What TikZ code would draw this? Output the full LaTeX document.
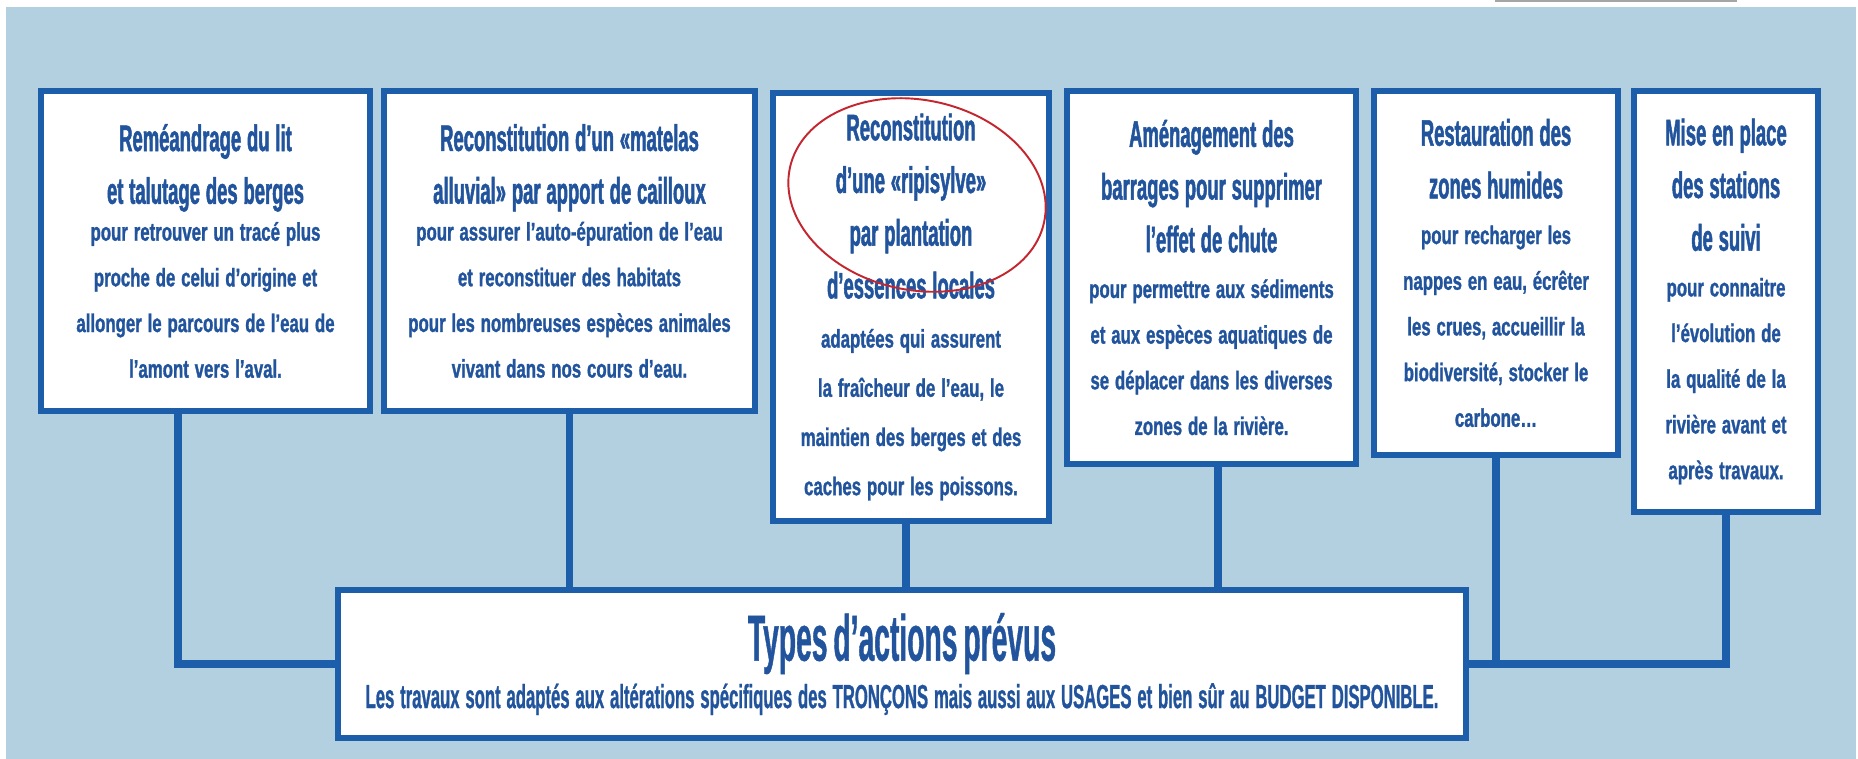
\documentclass[tikz,border=0pt]{standalone}
\usepackage{fontspec}
\setmainfont{Liberation Sans}
\newfontfamily\headfont{Liberation Sans}[FakeStretch=0.50, FakeBold=1.3]
\newfontfamily\copyfont{Liberation Sans}[FakeStretch=0.66, FakeBold=1.1]
\newfontfamily\mainheadfont{Liberation Sans}[FakeStretch=0.435, FakeBold=0.6]
\newfontfamily\mainnotefont{Liberation Sans}[FakeStretch=0.50, FakeBold=0.8]
\newcommand{\boxtitle}{\headfont\bfseries\fontsize{21}{30}\selectfont}
\newcommand{\boxbody}[1][26]{\copyfont\bfseries\fontsize{14.5}{#1}\selectfont}
\newcommand{\tightgap}{\par\vspace{-5pt}}
\newcommand{\typestitle}{\mainheadfont\bfseries\fontsize{37}{40}\selectfont}
\newcommand{\typesbody}{\mainnotefont\bfseries\fontsize{19}{27}\selectfont}
\usetikzlibrary{shapes.geometric}
\definecolor{bgblue}{RGB}{179,208,224}
\definecolor{frameblue}{RGB}{28,94,170}
\definecolor{inkblue}{RGB}{33,84,156}
\definecolor{ringred}{RGB}{196,38,48}
\definecolor{edgegray}{RGB}{165,165,165}

\begin{document}
\begin{tikzpicture}[
    x=0.02cm, y=-0.02cm,
    action/.style={draw=frameblue, fill=white, line width=3.4pt, align=center,
        inner sep=0pt, text=inkblue},
    link/.style={draw=frameblue, line width=4.3pt}
]

\useasboundingbox (0,0) rectangle (1858,759);
\fill[bgblue] (6,7) rectangle (1856,759);
\draw[edgegray, line width=0.6pt] (1496,-5) -- (1496,1) -- (1736,1) -- (1736,-5);

\node[action, minimum width=6.58cm, minimum height=6.40cm, text width=6.3cm] (b1) at (205.5,251)
    {{\boxtitle Reméandrage du lit\\ et talutage des berges\tightgap}
     {\boxbody pour retrouver un tracé plus\\ proche de celui d’origine et\\
      allonger le parcours de l’eau de\\ l’amont vers l’aval.\par}};
\node[action, minimum width=7.42cm, minimum height=6.40cm, text width=7.2cm] (b2) at (569.5,251)
    {{\boxtitle Reconstitution d’un «matelas\\ alluvial» par apport de cailloux\tightgap}
     {\boxbody pour assurer l’auto-épuration de l’eau\\ et reconstituer des habitats\\
      pour les nombreuses espèces animales\\ vivant dans nos cours d’eau.\par}};
\node[action, minimum width=5.52cm, minimum height=8.58cm, text width=5.3cm] (b3) at (911,307)
    {{\boxtitle Reconstitution\\ d’une «ripisylve»\\ par plantation\\ d’essences locales\par}
     {\boxbody[28] adaptées qui assurent\\ la fraîcheur de l’eau, le\\
      maintien des berges et des\\ caches pour les poissons.\par}};
\node[action, minimum width=5.78cm, minimum height=7.46cm, text width=5.6cm] (b4) at (1211.5,277.5)
    {{\boxtitle Aménagement des\\ barrages pour supprimer\\ l’effet de chute\par}
     {\boxbody pour permettre aux sédiments\\ et aux espèces aquatiques de\\
      se déplacer dans les diverses\\ zones de la rivière.\par}};
\node[action, minimum width=4.88cm, minimum height=7.28cm, text width=4.7cm] (b5) at (1496,273)
    {{\boxtitle Restauration des\\ zones humides\par}
     {\boxbody pour recharger les\\ nappes en eau, écrêter\\ les crues, accueillir la\\
      biodiversité, stocker le\\ carbone…\par}};
\node[action, minimum width=3.68cm, minimum height=8.42cm, text width=3.5cm] (b6) at (1726,301.5)
    {{\boxtitle Mise en place\\ des stations\\ de suivi\par}
     {\boxbody pour connaitre\\ l’évolution de\\ la qualité de la\\ rivière avant et\\ après travaux.\par}};
\node[action, minimum width=22.56cm, minimum height=2.96cm, text width=22.4cm] (types) at (902,664)
    {{\typestitle Types d’actions prévus\par}
     {\typesbody Les travaux sont adaptés aux altérations spécifiques des TRONÇONS mais aussi aux USAGES et bien sûr au BUDGET DISPONIBLE.\par}};

\node[draw=ringred, line width=1.1pt, ellipse, inner sep=0pt, rotate=-12,
    minimum width=5.2cm, minimum height=3.8cm] (ring) at (917,195) {};

\draw[link]
    ([xshift=-0.55cm]b1.south) |- (types.west)
    (b2.south) -- (b2.south |- types.north)
    ([xshift=-0.1cm]b3.south) -- ([xshift=-0.1cm]b3.south |- types.north)
    ([xshift=0.13cm]b4.south) -- ([xshift=0.13cm]b4.south |- types.north)
    (b5.south) -- (b5.south |- types.east)
    (types.east) -| (b6.south)
    ;

\end{tikzpicture}
\end{document}
